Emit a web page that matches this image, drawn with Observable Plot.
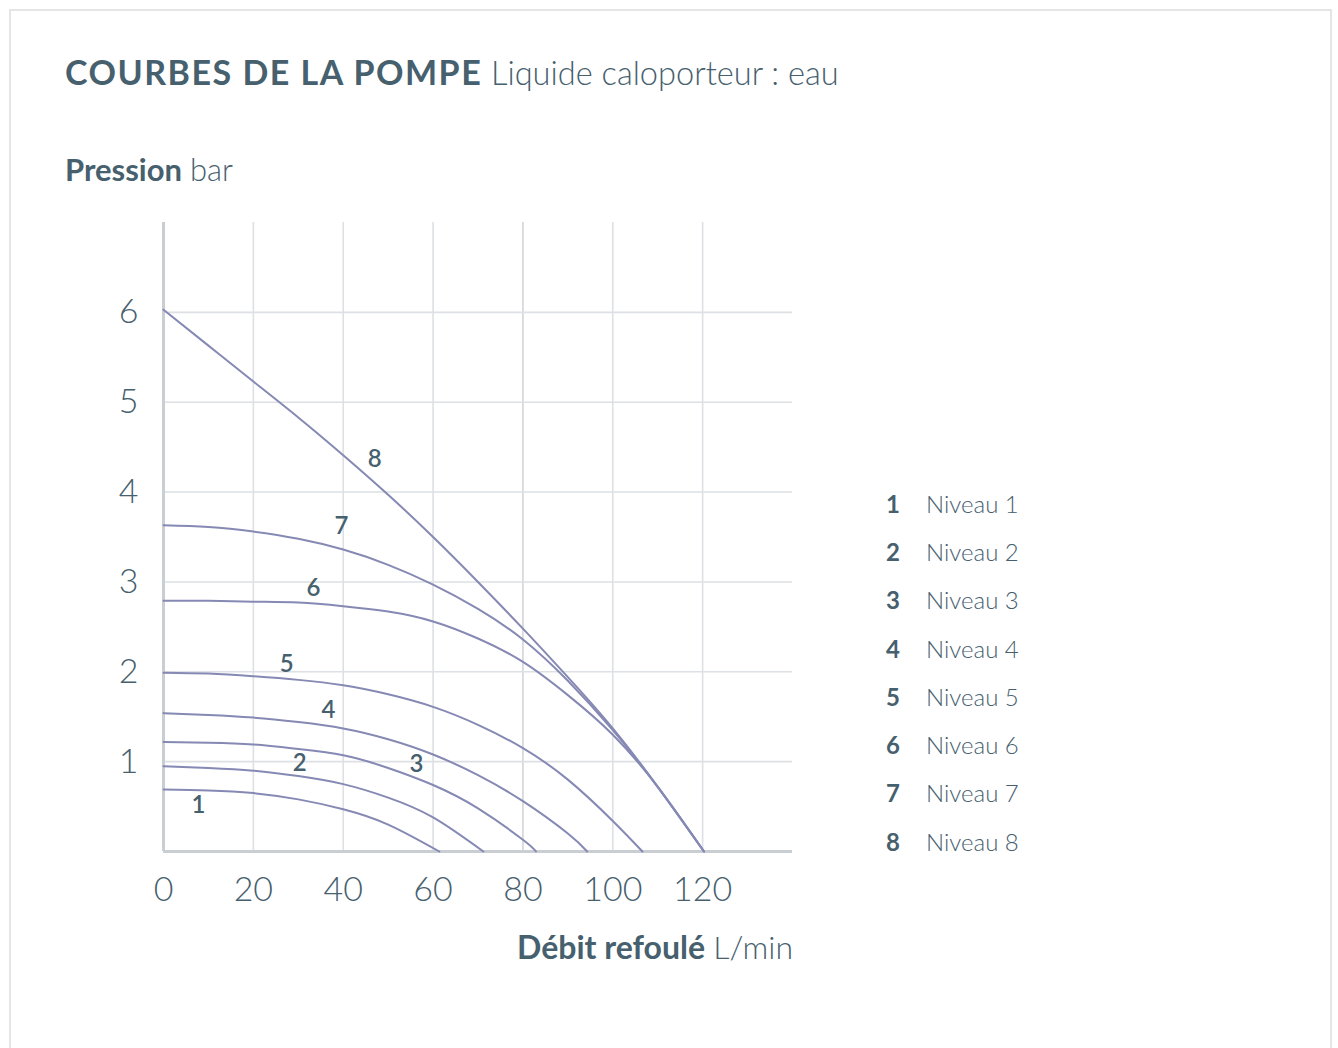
<!DOCTYPE html>
<html><head><meta charset="utf-8">
<script src="https://cdn.jsdelivr.net/npm/d3@7"></script>
<script src="https://cdn.jsdelivr.net/npm/@observablehq/plot@0.6"></script>
<style>
html,body{margin:0;padding:0;background:#fff;}
body{font-family:Lato,"Open Sans",sans-serif;color:#46606e;width:1338px;height:1048px;position:relative;overflow:hidden;}
#frame{position:absolute;left:9px;top:9px;width:1323px;height:1100px;border:2px solid #e5e5e5;box-sizing:border-box;}
.t{position:absolute;white-space:nowrap;line-height:1;}
#title{left:65px;top:55px;font-size:34px;}
#title b{font-weight:700;letter-spacing:1.5px}
#title span{font-weight:300;font-size:32.6px;}
#ylab{left:65px;top:154px;font-size:31px;}
#ylab b{font-weight:700}
#ylab span{font-weight:300}
#xlab{right:545px;top:931px;font-size:32px;}
#xlab b{font-weight:700}
#xlab span{font-weight:300}
#chart{position:absolute;left:60px;top:200px;}
#legend{position:absolute;left:870px;top:479px;}
.row{height:48.3px;display:flex;align-items:center;font-size:24px;}
.row .n{width:46px;text-align:center;font-weight:700;}
.row .l{margin-left:10px;font-weight:300;}
</style></head>
<body>
<div id="frame"></div>
<div class="t" id="title"><b>COURBES DE LA POMPE</b> <span>Liquide caloporteur : eau</span></div>
<div class="t" id="ylab"><b>Pression</b> <span>bar</span></div>
<div class="t" id="xlab"><b>Débit refoulé</b> <span>L/min</span></div>
<div id="chart"></div>
<div id="legend"></div>
<script>
const xTicks=[0,20,40,60,80,100,120];
const yTicks=[1,2,3,4,5,6];
const levels=[1,2,3,4,5,6,7,8];
const legendLabels=["Niveau 1","Niveau 2","Niveau 3","Niveau 4","Niveau 5","Niveau 6","Niveau 7","Niveau 8"];

const flow1=[0,10,20,30,40,50,61.4];
const pres1=[0.69,0.68,0.65,0.58,0.47,0.30,0];
const flow2=[0,10,20,30,40,50,60,71.2];
const pres2=[0.95,0.93,0.90,0.84,0.75,0.60,0.38,0];
const flow3=[0,10,20,30,40,50,60,70,80,82.9];
const pres3=[1.22,1.21,1.19,1.14,1.07,0.93,0.74,0.48,0.13,0];
const flow4=[0,10,20,30,40,50,60,70,80,90,94.3];
const pres4=[1.54,1.52,1.49,1.44,1.37,1.25,1.08,0.85,0.56,0.2,0];
const flow5=[0,10,20,30,40,50,60,70,80,90,100,106.6];
const pres5=[1.99,1.98,1.95,1.91,1.85,1.75,1.61,1.41,1.15,0.8,0.34,0];
const flow6=[0,10,20,30,40,50,60,70,80,90,100,110,120.3];
const pres6=[2.79,2.79,2.78,2.77,2.73,2.67,2.56,2.37,2.11,1.74,1.30,0.72,0];
const flow7=[0,10,20,30,40,50,60,70,80,90,100,110,120.3];
const pres7=[3.63,3.61,3.56,3.48,3.36,3.19,2.97,2.70,2.36,1.90,1.35,0.72,0];
const flow8=[0,10,20,30,40,50,60,70,80,90,100,110,120.3];
const pres8=[6.03,5.63,5.23,4.83,4.41,3.97,3.5,3.0,2.48,1.94,1.37,0.72,0];

const labelX=[7.8,30.3,56.3,36.7,27.4,33.4,39.6,47];
const labelY=[0.51,0.98,0.97,1.57,2.08,2.93,3.62,4.37];

const flows=[flow1,flow2,flow3,flow4,flow5,flow6,flow7,flow8];
const press=[pres1,pres2,pres3,pres4,pres5,pres6,pres7,pres8];
const table=[];
levels.forEach((lv,i)=>flows[i].forEach((f,j)=>table.push({level:lv,flow:f,pressure:press[i][j]})));
const labels=levels.map((lv,i)=>({level:lv,x:labelX[i],y:labelY[i]}));

const txt="#46606e";
const chart=Plot.plot({
  width:760,height:720,
  marginLeft:103,marginTop:22,marginRight:28,marginBottom:69,
  style:{fontFamily:"Lato, sans-serif",background:"transparent"},
  x:{domain:[0,140],axis:null},
  y:{domain:[0,7],axis:null},
  marks:[
    Plot.ruleX(xTicks.filter(d=>d>0),{y1:0,y2:7,stroke:d=>d===80?"#d2d5d9":"#dde0e4",strokeWidth:1.6}),
    Plot.ruleY(yTicks,{x1:0,x2:140,stroke:"#dde0e4",strokeWidth:1.6}),
    Plot.ruleX([0],{y1:0,y2:7,stroke:"#c9ced3",strokeWidth:3}),
    Plot.ruleY([0],{x1:0,x2:140,stroke:"#c9ced3",strokeWidth:3}),
    Plot.line(table,{x:"flow",y:"pressure",z:"level",stroke:"#8589b3",strokeWidth:2,curve:"natural"}),
    Plot.text(labels,{x:"x",y:"y",text:d=>String(d.level),fill:txt,fontSize:24,fontWeight:600}),
    Plot.axisX(xTicks,{tickSize:0,tickPadding:25,fontSize:34,fontWeight:300,fill:txt,tickFormat:"d"}),
    Plot.axisY(yTicks,{tickSize:0,tickPadding:25,fontSize:34,fontWeight:300,fill:txt,tickFormat:"d"})
  ]
});
document.getElementById("chart").appendChild(chart);

const leg=document.getElementById("legend");
levels.forEach((lv,i)=>{
  const r=document.createElement("div");r.className="row";
  r.innerHTML=`<span class="n">${lv}</span><span class="l">${legendLabels[i]}</span>`;
  leg.appendChild(r);
});
</script>
</body></html>
